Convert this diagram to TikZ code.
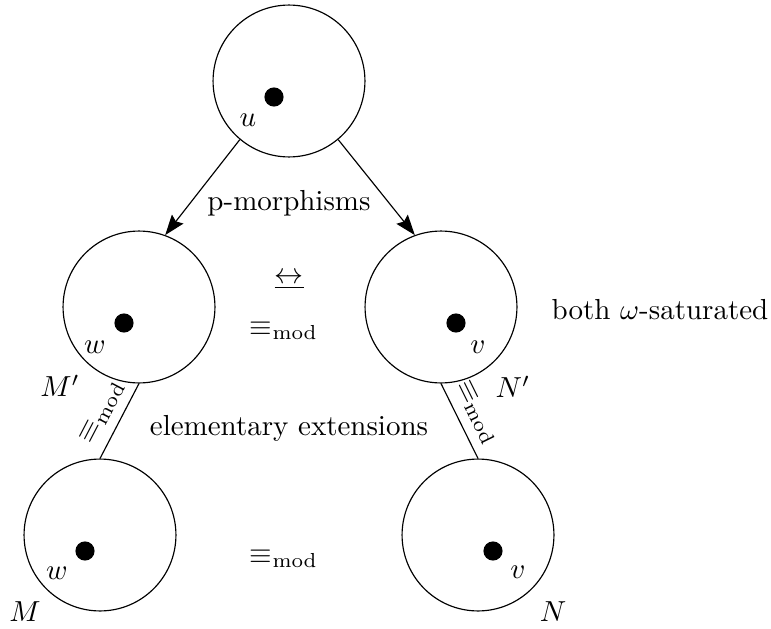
\documentclass[tikz,border=0pt]{standalone}
\usepackage{amsmath,amssymb}
\usepackage{tikz}
\usetikzlibrary{arrows.meta,positioning,calc}

\begin{document}
\begin{tikzpicture}[auto, >={Stealth[length=7pt,width=5pt,inset=1pt]}, x=0.345pt, y=-0.345pt,
  world/.style={circle, draw, minimum size=52.4pt, inner sep=0pt},
  pt/.style={circle, fill, minimum size=6.6pt, inner sep=0pt}]
\useasboundingbox (0,0) rectangle (771,628);

  % Define coordinates for nodes
\node[world] (T) at (289, 81) {}; \node[world] (Mp) at (139, 307) {}; \node[world] (Np) at (441, 307) {}; \node[world] (M) at (100, 535) {}; \node[world] (N) at (478, 535) {};
\node[pt] (dT) at (274, 97) {}; \node[pt] (dMp) at (124, 323) {}; \node[pt] (dNp) at (456, 323) {}; \node[pt] (dM) at (85, 551) {}; \node[pt] (dN) at (493, 551) {};
\node (u) at (248, 120) {$u$}; \node (wp) at (95, 347) {$w$}; \node (vp) at (478, 347) {$v$}; \node (w) at (57, 573) {$w$}; \node (v) at (518, 572) {$v$};
\node (lMp) at (60, 386) {$M'$}; \node (lNp) at (513, 387) {$N'$}; \node (lM) at (25, 612) {$M$}; \node (lN) at (553, 612) {$N$};
\node (pm) at (289, 203) {p-morphisms}; \node (bisim) at (289, 281) {$\underline{\leftrightarrow}$}; \node (eqtop) at (284, 331) {$\equiv_{\mathrm{mod}}$};
\node (sat) at (660, 310) {both $\omega$-saturated}; \node (ext) at (289, 428) {elementary extensions}; \node (eqbot) at (284, 559) {$\equiv_{\mathrm{mod}}$};

  % Draw arrows between nodes
\draw[->] (T.230) to (Mp.70); \draw[->] (T.310) to (Np.110);
\draw (M.north) to node[sloped, above] {$\equiv_{\mathrm{mod}}$} (Mp.south); \draw (Np.south) to node[sloped, above] {$\equiv_{\mathrm{mod}}$} (N.north);

\end{tikzpicture}
\end{document}
